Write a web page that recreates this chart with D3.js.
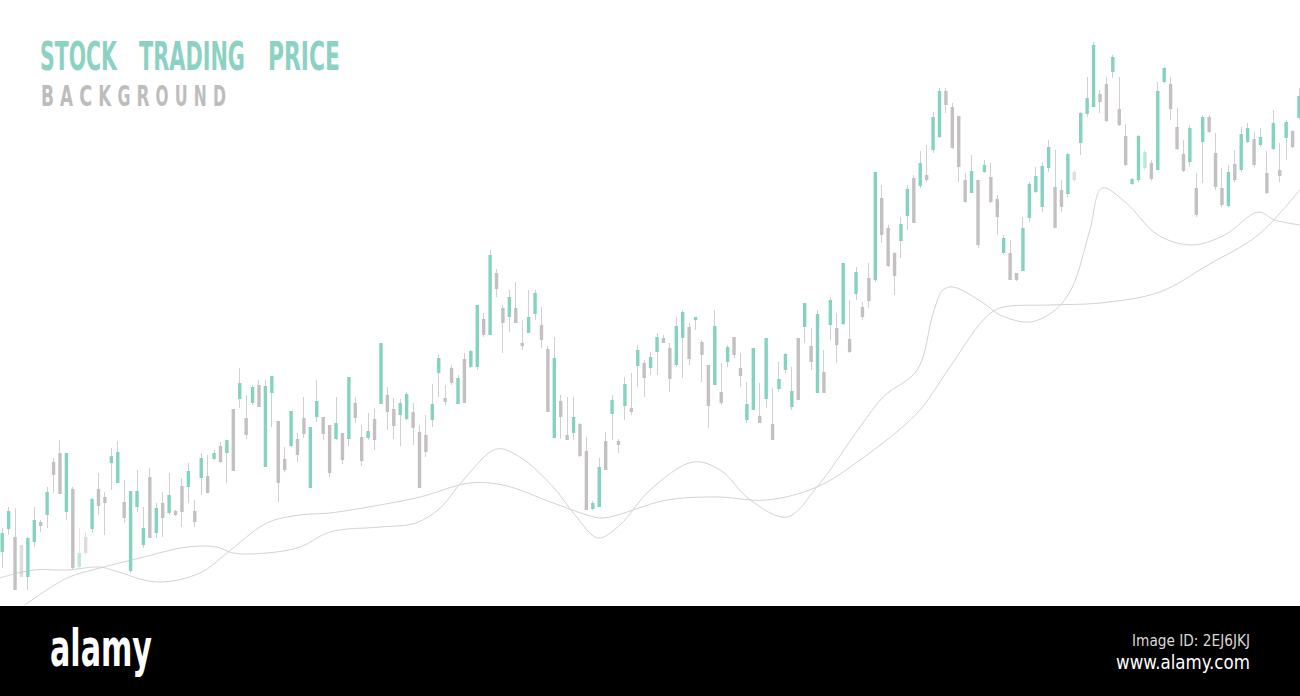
<!DOCTYPE html>
<html><head><meta charset="utf-8">
<script src="https://cdn.jsdelivr.net/npm/d3@7"></script>
<style>html,body{margin:0;padding:0;background:#fff;overflow:hidden}</style>
</head><body><svg id="c" width="1300" height="696"></svg>
<script>
// ---- data (price units, one candle per day) ----
const days = d3.range(203);
const opens = [48,71,63,55,23,58,78,85,138,147,88,111,33,63,71,111,103,137,117,98,29,93,55,123,67,97,87,89,114,113,89,122,124,141,154,147,191,201,182,197,215,133,207,179,141,154,161,182,112,183,183,175,161,167,161,197,163,162,181,196,205,191,185,181,188,168,165,180,227,202,232,196,241,233,233,281,265,327,292,283,292,257,267,286,275,251,162,199,165,167,176,149,91,93,159,186,159,194,192,234,237,232,248,262,252,235,262,273,280,258,235,215,208,238,263,232,180,190,184,201,176,211,230,193,262,273,254,207,228,275,272,276,261,306,293,322,320,402,372,347,359,384,422,414,425,450,463,509,493,484,420,407,420,428,423,401,347,347,327,329,382,408,393,432,413,410,406,428,457,486,493,506,516,528,491,464,416,420,432,437,430,518,516,473,446,438,412,458,483,447,412,394,436,430,458,461,455,427,451,430,462,469,482];
const highs = [72,93,92,55,63,93,80,113,142,160,147,113,72,68,102,127,108,152,159,120,109,130,93,132,97,108,127,90,122,137,100,147,145,150,158,160,191,232,205,215,220,220,224,179,153,189,167,203,173,220,183,175,203,167,223,203,175,187,192,257,213,202,201,208,197,175,185,216,245,215,235,225,247,250,295,287,350,331,295,310,318,280,310,310,293,254,263,205,203,203,177,163,99,142,168,205,161,223,227,255,240,248,267,265,257,283,290,277,283,260,235,290,237,255,263,247,218,252,217,262,212,238,247,233,262,297,272,290,250,303,287,337,300,333,298,337,428,415,375,348,383,415,425,449,455,488,512,512,497,484,427,445,420,440,437,405,365,360,327,383,418,433,438,460,450,420,447,430,488,523,558,510,523,545,523,476,422,465,450,440,518,533,523,492,460,475,427,485,485,467,432,435,450,473,477,468,472,449,490,457,480,470,512];
const lows = [32,65,10,23,10,53,68,72,107,106,80,30,32,45,67,85,65,110,117,77,27,88,52,62,62,63,85,84,73,97,73,105,107,140,137,117,129,192,161,195,193,133,173,98,128,153,138,162,112,178,160,123,160,136,154,177,134,160,150,196,170,161,154,180,155,112,143,173,203,195,215,196,197,232,230,263,265,303,247,268,277,250,267,280,252,188,162,161,160,160,143,90,90,93,130,160,147,180,185,213,203,225,225,257,208,233,222,235,270,218,172,215,195,233,242,213,177,190,177,192,160,208,227,190,200,257,230,207,207,260,237,275,247,300,280,292,318,357,333,305,342,370,377,412,418,447,462,487,451,418,397,407,352,427,397,365,345,320,319,329,378,407,388,428,372,388,403,418,445,483,493,487,478,522,474,434,415,418,430,419,430,517,480,450,428,433,383,417,467,410,393,393,418,428,457,433,453,406,450,418,440,452,480];
const closes = [67,89,10,23,62,80,74,108,125,106,147,32,47,47,101,94,97,144,148,82,109,109,72,62,92,82,105,85,88,129,78,142,107,147,138,160,129,217,165,213,193,214,224,117,130,189,145,166,173,199,166,127,177,140,223,182,139,169,160,257,188,174,197,206,172,112,148,196,242,198,217,222,197,249,295,265,345,311,277,303,277,254,283,307,260,188,242,183,160,183,144,90,97,133,130,200,155,216,188,250,222,243,263,257,221,274,288,241,283,245,194,274,197,253,245,224,196,252,177,262,160,221,246,209,200,297,238,286,207,300,255,337,248,328,283,299,428,365,334,324,376,411,377,437,420,483,509,495,452,433,398,429,355,435,398,383,362,320,320,372,416,424,434,453,372,393,446,420,487,502,555,498,479,543,475,435,421,464,448,421,509,532,491,451,429,472,385,483,468,413,395,428,420,466,472,435,463,407,477,424,478,453,504];
const fadedDays = [3,12,13,167,178];

// two moving-average style guide lines (day, price)
const maFastDay = [3.6,10.2,15.3,21.5,28.9,33.5,36.0,41.3,46.5,51.1,58.9,64.5,68.3,71.9,77.1,80.7,85.9,89.3,92.9,96.3,101.0,107.7,111.9,116.6,122.3,127.0,133.7,137.3,142.6,145.1,146.6,148.2,152.9,155.5,160.2,164.1,166.7,169.5,171.4,175.0,180.1,185.4,190.5,195.7,198.3,202.2];
const maFastVal = [-5,22,32,42,53,53,47,47,53,68,73,77,92,120,151,143,113,85,62,75,110,138,130,100,83,113,173,203,230,287,310,313,297,285,278,290,312,370,412,398,365,355,365,388,380,375];
const maSlowDay = [-0.3,4.9,10.2,15.3,17.7,24.2,30.9,35.1,41.3,46.5,51.1,58.9,65.2,72.9,78.1,85.9,91.2,93.7,103.6,111.4,119.2,127.0,133.7,142.6,147.7,152.9,155.5,163.3,171.1,180.4,187.9,195.7,202.2];
const maSlowVal = [22,30,30,33,29,18,27,47,77,85,87,95,103,117,115,97,85,82,100,103,100,113,140,187,233,280,292,295,297,308,335,365,410];

const titleWords = ["STOCK", "TRADING", "PRICE"];
const subtitle = "BACKGROUND";
const brand = "alamy";
const imageId = "Image ID: 2EJ6JKJ";
const site = "www.alamy.com";

// ---- drawing ----
const svg = d3.select("#c");
const W = 1300, H = 696;
const x = d3.scaleLinear().domain([0, 202]).range([1.7, 1298.5]);
const y = d3.scaleLinear().domain([0, 600]).range([600, 0]);

const TEAL = "#84d2c0", GREY = "#c4c0c2";
svg.append("rect").attr("width", W).attr("height", H).attr("fill", "#fff");

// guide lines
const line = d3.line().x(d => x(d[0])).y(d => y(d[1])).curve(d3.curveCatmullRom.alpha(0.5));
svg.append("clipPath").attr("id", "plot").append("rect").attr("width", W).attr("height", 606);
const gl = svg.append("g").attr("clip-path", "url(#plot)");
gl.append("path").datum(maFastDay.map((d, i) => [d, maFastVal[i]]))
  .attr("d", line).attr("fill", "none").attr("stroke", "#d3d3d3").attr("stroke-width", 1);
gl.append("path").datum(maSlowDay.map((d, i) => [d, maSlowVal[i]]))
  .attr("d", line).attr("fill", "none").attr("stroke", "#d3d3d3").attr("stroke-width", 1);

// candles
const candles = days.map(i => ({i, o: opens[i], h: highs[i], l: lows[i], c: closes[i], faded: fadedDays.includes(i)}));
const cg = svg.append("g").selectAll("g.c").data(candles).join("g").attr("class", "c")
  .attr("opacity", d => d.faded ? 0.55 : 1);
cg.append("line")
  .attr("x1", d => Math.round(x(d.i)) + 0.5).attr("x2", d => Math.round(x(d.i)) + 0.5)
  .attr("y1", d => y(d.h)).attr("y2", d => y(d.l))
  .attr("stroke", "#d2cfd0").attr("stroke-width", 1);
const bw = 3.4;
cg.append("rect")
  .attr("x", d => x(d.i) - bw / 2 + 0.5).attr("width", bw)
  .attr("y", d => y(Math.max(d.o, d.c)))
  .attr("height", d => Math.max(1.5, Math.abs(y(d.o) - y(d.c))))
  .attr("fill", d => d.c >= d.o ? TEAL : GREY);

// text helper: scale horizontally to a target width
const tf = "'Liberation Sans Narrow','DejaVu Sans Condensed',sans-serif";
function fitText(str, x0, y0, width, size, fill, weight, anchor) {
  const t = svg.append("text").text(str).attr("x", 0).attr("y", 0)
    .attr("font-family", tf).attr("font-weight", weight).attr("font-size", size).attr("fill", fill);
  const nat = t.node().getComputedTextLength();
  const sx = width / nat;
  const left = anchor === "end" ? x0 - width : x0;
  t.attr("transform", `translate(${left},${y0}) scale(${sx},1)`);
  return t;
}

// title
const wordPos = [[40, 77], [139, 106], [268, 72]];
titleWords.forEach((w, k) => fitText(w, wordPos[k][0], 70, wordPos[k][1], 39, "#8cd2c2", "bold"));
subtitle.split("").forEach((ch, k) => fitText(ch, 41 + k * 19.1, 106, 13, 29, "#bdbdbd", "bold"));

// bottom bar
svg.append("rect").attr("x", 0).attr("y", 606).attr("width", W).attr("height", 90).attr("fill", "#000");
fitText(brand, 50, 666, 102, 52, "#fff", "bold");
fitText(imageId, 1250, 646, 118, 15, "#d8d8d8", "normal", "end");
fitText(site, 1250, 669, 134, 19, "#fff", "normal", "end");
</script></body></html>
